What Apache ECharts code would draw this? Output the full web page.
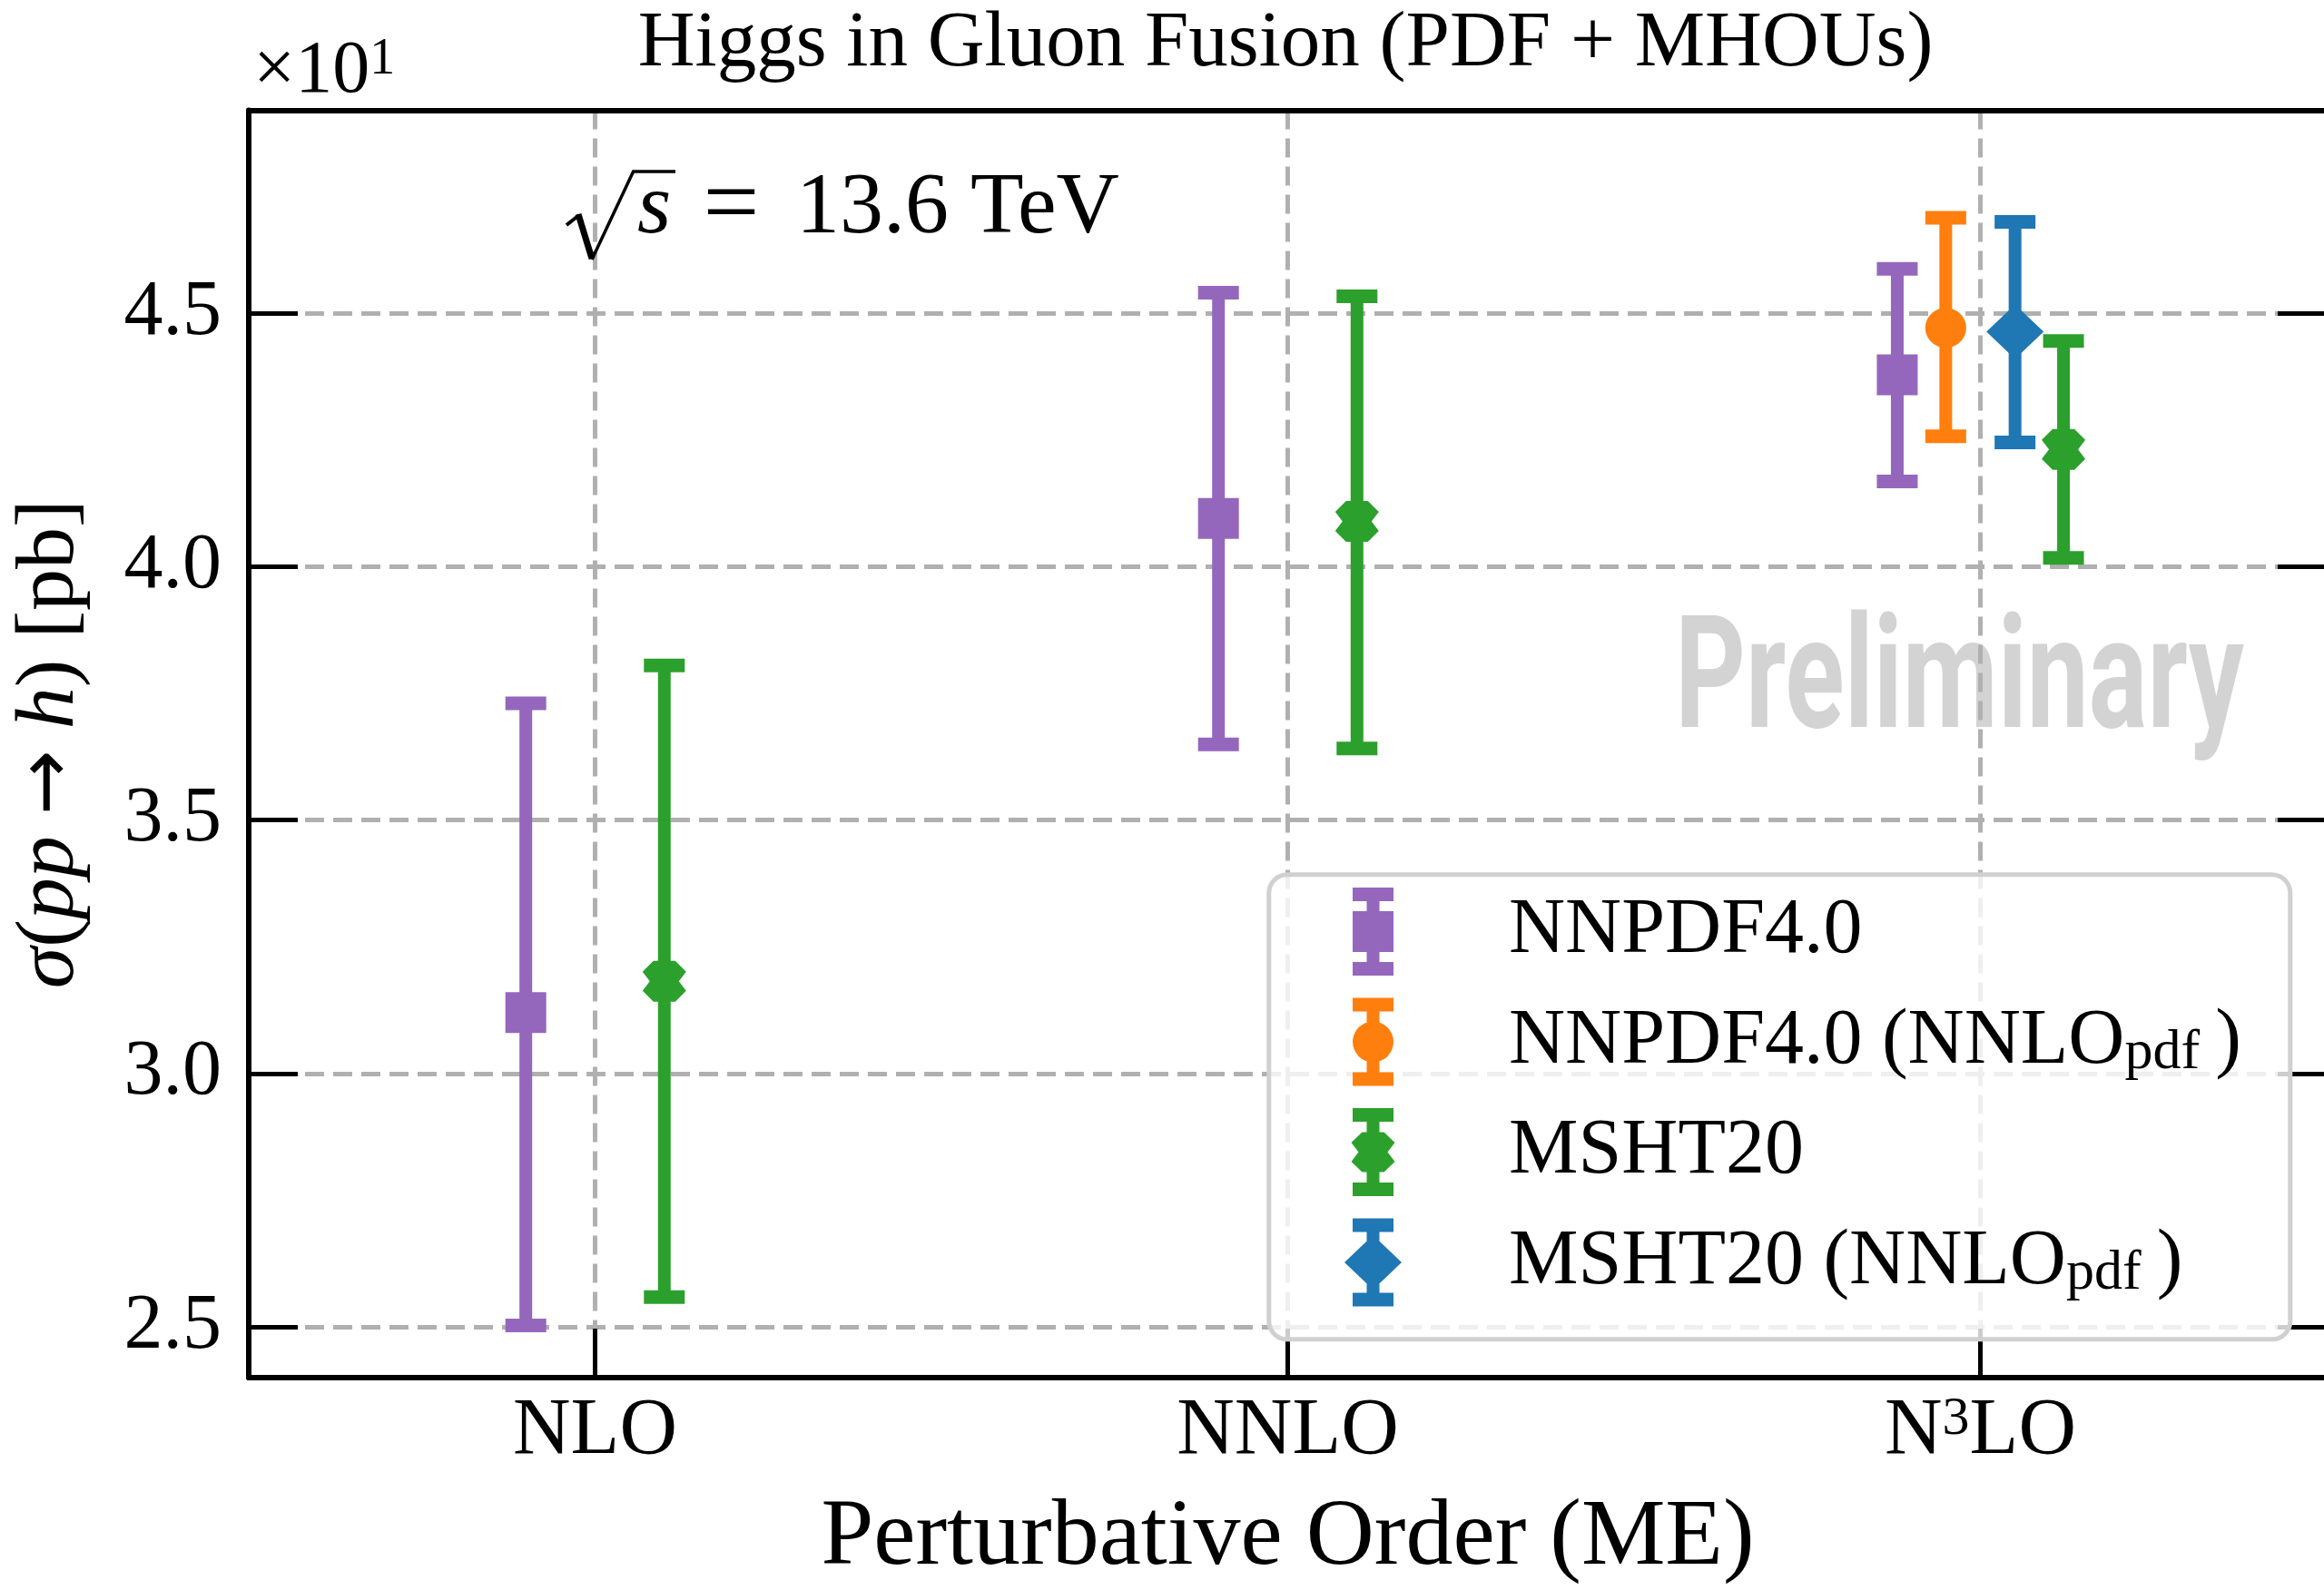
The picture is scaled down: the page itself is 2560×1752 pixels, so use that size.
<!DOCTYPE html>
<html><head><meta charset="utf-8">
<script src="https://cdn.jsdelivr.net/npm/echarts@6/dist/echarts.min.js"></script>
<style>html,body{margin:0;padding:0;background:#fff}#c{width:2560px;height:1752px}</style>
</head><body><div id="c"></div>
<script>
// ---------------- data ----------------
const orders = ['NLO', 'NNLO', 'N3LO'];
const yTicks = [2.5, 3.0, 3.5, 4.0, 4.5];
const seriesNames = ['NNPDF4.0', 'NNPDF4.0 (NNLOpdf)', 'MSHT20', 'MSHT20 (NNLOpdf)'];

const nnpdf40Central = [3.120, 4.095, 4.378];
const nnpdf40Low     = [2.503, 3.649, 4.168];
const nnpdf40High    = [3.730, 4.540, 4.587];

const nnpdf40NnloCentral = [null, null, 4.471];
const nnpdf40NnloLow     = [null, null, 4.257];
const nnpdf40NnloHigh    = [null, null, 4.688];

const msht20Central = [3.182, 4.089, 4.231];
const msht20Low     = [2.559, 3.641, 4.017];
const msht20High    = [3.805, 4.533, 4.445];

const msht20NnloCentral = [null, null, 4.463];
const msht20NnloLow     = [null, null, 4.245];
const msht20NnloHigh    = [null, null, 4.680];

// ---------------- layout / style ----------------
const dodge = {
  'NNPDF4.0': [-0.10, -0.10, -0.12],
  'NNPDF4.0 (NNLOpdf)': [0, 0, -0.05],
  'MSHT20': [0.10, 0.10, 0.12],
  'MSHT20 (NNLOpdf)': [0, 0, 0.05]
};
const colors = {
  'NNPDF4.0': '#9467bd',
  'NNPDF4.0 (NNLOpdf)': '#ff7f0e',
  'MSHT20': '#2ca02c',
  'MSHT20 (NNLOpdf)': '#1f77b4'
};
const markers = {
  'NNPDF4.0': 'square',
  'NNPDF4.0 (NNLOpdf)': 'circle',
  'MSHT20': 'double',
  'MSHT20 (NNLOpdf)': 'diamond'
};
const SERIF = 'Liberation Serif';
const doublePts = [[-12,-22.5],[12,-22.5],[24,-10.5],[16,0],[24,10.5],[12,22.5],[-12,22.5],[-24,10.5],[-16,0],[-24,-10.5]];

function build(name, c, lo, hi) {
  const out = [];
  for (let i = 0; i < orders.length; i++) {
    if (c[i] == null) continue;
    out.push([i + dodge[name][i], c[i], lo[i], hi[i]]);
  }
  return out;
}
const seriesData = {
  'NNPDF4.0': build('NNPDF4.0', nnpdf40Central, nnpdf40Low, nnpdf40High),
  'NNPDF4.0 (NNLOpdf)': build('NNPDF4.0 (NNLOpdf)', nnpdf40NnloCentral, nnpdf40NnloLow, nnpdf40NnloHigh),
  'MSHT20': build('MSHT20', msht20Central, msht20Low, msht20High),
  'MSHT20 (NNLOpdf)': build('MSHT20 (NNLOpdf)', msht20NnloCentral, msht20NnloLow, msht20NnloHigh)
};

function makeRender(marker) {
  return function (params, api) {
    const x = api.value(0);
    const pc = api.coord([x, api.value(1)]);
    const pl = api.coord([x, api.value(2)]);
    const ph = api.coord([x, api.value(3)]);
    const color = api.visual('color');
    const st = { fill: color };
    const ch = [
      { type: 'line', shape: { x1: pl[0], y1: pl[1], x2: ph[0], y2: ph[1] }, style: { stroke: color, lineWidth: 14 } },
      { type: 'rect', shape: { x: pl[0] - 22.5, y: pl[1] - 7.5, width: 45, height: 15 }, style: st },
      { type: 'rect', shape: { x: ph[0] - 22.5, y: ph[1] - 7.5, width: 45, height: 15 }, style: st }
    ];
    const cx = pc[0], cy = pc[1];
    if (marker === 'square') ch.push({ type: 'rect', shape: { x: cx - 22.5, y: cy - 22.5, width: 45, height: 45 }, style: st });
    else if (marker === 'circle') ch.push({ type: 'ellipse', shape: { cx: cx, cy: cy, rx: 22.5, ry: 22 }, style: st });
    else if (marker === 'diamond') ch.push({ type: 'polygon', shape: { points: [[cx, cy - 30], [cx + 31.5, cy], [cx, cy + 30], [cx - 31.5, cy]] }, style: st });
    else ch.push({ type: 'polygon', shape: { points: doublePts.map(p => [cx + p[0], cy + p[1]]) }, style: st });
    return { type: 'group', children: ch };
  };
}

// all legend icons share a 63 x 97 bounding box (degenerate points pin the box)
const BOX = ' M0 48.5L0 48.5Z M63 48.5L63 48.5Z';
const legendIcons = {
  'NNPDF4.0': 'path://M9 0H54V15H9Z M24.5 15H38.5V82H24.5Z M9 82H54V97H9Z M9 26H54V71H9Z' + BOX,
  'NNPDF4.0 (NNLOpdf)': 'path://M9 0H54V15H9Z M24.5 15H38.5V82H24.5Z M9 82H54V97H9Z M9 48.5A22.5 22.5 0 1 1 54 48.5A22.5 22.5 0 1 1 9 48.5Z' + BOX,
  'MSHT20': 'path://M9 0H54V15H9Z M24.5 15H38.5V82H24.5Z M9 82H54V97H9Z M19.5 26.5L43.5 26.5L55.5 38L47.5 48.5L55.5 59L43.5 70.5L19.5 70.5L7.5 59L15.5 48.5L7.5 38Z' + BOX,
  'MSHT20 (NNLOpdf)': 'path://M9 0H54V15H9Z M24.5 15H38.5V82H24.5Z M9 82H54V97H9Z M31.5 18.5L63 48.5L31.5 78.5L0 48.5Z' + BOX
};

const axisLineStyle = { color: '#000', width: 6 };
const tickStyle = { color: '#000', width: 5 };
const gridStyle = { color: '#b0b0b0', width: 5, type: [21, 10] };

const chart = echarts.init(document.getElementById('c'), null, { renderer: 'canvas' });
chart.setOption({
  animation: false,
  backgroundColor: '#ffffff',
  textStyle: { fontFamily: SERIF },
  title: {
    text: 'Higgs in Gluon Fusion (PDF + MHOUs)',
    left: 1416, top: 6, textAlign: 'center', padding: 0,
    textStyle: { fontFamily: SERIF, fontSize: 87, fontWeight: 'normal', color: '#000', lineHeight: 87 }
  },
  grid: { left: 274, top: 121.5, width: 2289, height: 1396.5, containLabel: false, outerBoundsMode: 'none' },
  xAxis: [{
    type: 'value', min: -0.5, max: 2.5, position: 'bottom',
    axisLine: { show: true, onZero: false, lineStyle: axisLineStyle },
    axisTick: { show: true, inside: true, length: 54, customValues: [0, 1, 2], lineStyle: tickStyle },
    axisLabel: {
      show: true, customValues: [0, 1, 2], margin: 16,
      formatter: v => { const s = orders[Math.round(v)] || ''; return s === 'N3LO' ? 'N{sup|3}LO' : s; },
      fontFamily: SERIF, fontSize: 88, lineHeight: 88, color: '#000',
      rich: { sup: { fontFamily: SERIF, fontSize: 60, lineHeight: 44, verticalAlign: 'top', color: '#000' } }
    },
    splitLine: { show: true, lineStyle: gridStyle },
    name: 'Perturbative Order (ME)', nameLocation: 'middle', nameGap: 128,
    nameTextStyle: { fontFamily: SERIF, fontSize: 104, lineHeight: 100, color: '#000' }
  }, {
    type: 'value', min: -0.5, max: 2.5, position: 'top',
    axisLine: { show: true, onZero: false, lineStyle: axisLineStyle },
    axisTick: { show: false }, axisLabel: { show: false }, splitLine: { show: false }
  }],
  yAxis: [{
    type: 'value', min: 2.4, max: 4.9, position: 'left',
    axisLine: { show: true, onZero: false, lineStyle: axisLineStyle },
    axisTick: { show: true, inside: true, length: 54, customValues: yTicks, lineStyle: tickStyle },
    axisLabel: {
      show: true, customValues: yTicks, margin: 30, formatter: v => v.toFixed(1),
      fontFamily: SERIF, fontSize: 86, lineHeight: 86, color: '#000'
    },
    splitLine: { show: true, lineStyle: gridStyle },
    name: '{i|σ}({i|pp} {a|→} {i|h}) [pb]', nameLocation: 'middle', nameRotate: 90, nameGap: 171,
    nameTextStyle: {
      fontFamily: SERIF, fontSize: 92, lineHeight: 94, color: '#000',
      rich: {
        i: { fontFamily: SERIF, fontStyle: 'italic', fontSize: 92, lineHeight: 94, color: '#000' },
        a: { fontFamily: 'DejaVu Sans', fontSize: 86, lineHeight: 94, color: '#000' }
      }
    }
  }, {
    type: 'value', min: 2.4, max: 4.9, position: 'right',
    axisLine: { show: true, onZero: false, lineStyle: axisLineStyle },
    axisTick: { show: true, inside: true, length: 54, customValues: yTicks, lineStyle: tickStyle },
    axisLabel: { show: false }, splitLine: { show: false }
  }],
  legend: {
    orient: 'vertical', left: 1481, top: 978, padding: 0,
    itemWidth: 63, itemHeight: 97, itemGap: 24.5, selectedMode: false, z: 6,
    data: seriesNames.map(n => ({ name: n, icon: legendIcons[n] })),
    formatter: n => n.replace('NNLOpdf', 'NNLO{sub|pdf}\u2009'),
    textStyle: {
      fontFamily: SERIF, fontSize: 86, lineHeight: 88, color: '#000',
      padding: [0, 0, 0, 113], width: 760, overflow: 'none',
      rich: { sub: { fontFamily: SERIF, fontSize: 62, lineHeight: 62, verticalAlign: 'bottom', color: '#000' } }
    }
  },
  graphic: [
    { type: 'text', x: 1845, y: 758, scaleX: 0.7, z: -10, silent: true,
      style: { text: 'Preliminary', fontFamily: 'Roboto', fontWeight: 'bold', fontSize: 173, fill: '#d3d3d3',
               align: 'left', verticalAlign: 'middle', textAlign: 'left', textVerticalAlign: 'middle' } },
    { type: 'rect', z: 5, silent: true,
      shape: { x: 1397.8, y: 963.8, width: 1125, height: 512, r: 20 },
      style: { fill: 'rgba(255,255,255,0.8)', stroke: '#d0d0d0', lineWidth: 5 } },
    { type: 'polyline', z: 7, silent: true, shape: { points: [[624, 248], [638, 237]] }, style: { stroke: '#000', lineWidth: 4, fill: null } },
    { type: 'polyline', z: 7, silent: true, shape: { points: [[637, 236], [652, 285]] }, style: { stroke: '#000', lineWidth: 7, fill: null } },
    { type: 'polyline', z: 7, silent: true, shape: { points: [[652, 286], [697.6, 189], [744, 189]] }, style: { stroke: '#000', lineWidth: 3.5, fill: null } },
    { type: 'text', x: 702, y: 230.5, z: 7, silent: true,
      style: { text: 's', fontFamily: SERIF, fontStyle: 'italic', fontSize: 96, fill: '#000', align: 'left', verticalAlign: 'middle', textAlign: 'left', textVerticalAlign: 'middle' } },
    { type: 'text', x: 805.5, y: 230.5, z: 7, silent: true,
      style: { text: '=', fontFamily: SERIF, fontSize: 110, fill: '#000', align: 'center', verticalAlign: 'middle', textAlign: 'center', textVerticalAlign: 'middle' } },
    { type: 'text', x: 877, y: 230.5, z: 7, silent: true,
      style: { text: '13.6 TeV', fontFamily: SERIF, fontSize: 96, fill: '#000', align: 'left', verticalAlign: 'middle', textAlign: 'left', textVerticalAlign: 'middle' } },
    { type: 'text', x: 279, y: 79, z: 7, silent: true,
      style: { text: '×10{sup|1}', fontFamily: SERIF, fontSize: 82, lineHeight: 82, fill: '#000',
               align: 'left', verticalAlign: 'middle', textAlign: 'left', textVerticalAlign: 'middle',
               rich: { sup: { fontFamily: SERIF, fontSize: 56, lineHeight: 38, verticalAlign: 'top', fill: '#000' } } } }
  ],
  series: seriesNames.map(n => ({
    type: 'custom', name: n, coordinateSystem: 'cartesian2d', xAxisIndex: 0, yAxisIndex: 0,
    itemStyle: { color: colors[n] }, z: 3, silent: true,
    encode: { x: 0, y: [1, 2, 3] },
    renderItem: makeRender(markers[n]),
    data: seriesData[n]
  }))
});
</script></body></html>
